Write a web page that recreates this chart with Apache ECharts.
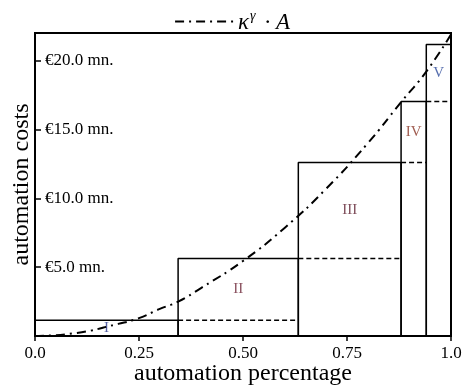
<!DOCTYPE html>
<html lang="en">
<head>
  <script src="https://cdn.jsdelivr.net/npm/echarts@6.0.0/dist/echarts.min.js"></script>
  <meta charset="UTF-8">
</head>
<body style="margin:0">
  <div id="costChart" style="width: 464px;height:389px;"></div>

  <script type="text/javascript">

    // step boundaries on the automation-percentage axis and step heights (mn. EUR)
    var stageEdges = [0, 0.344, 0.633, 0.880, 0.9406, 1.0];
    var stageHeights = [1.15, 5.63, 12.59, 17.03, 21.16];
    var stageNames = ['I', 'II', 'III', 'IV', 'V'];
    var stageColors = ['#2b3a8c', '#6b2436', '#5a1c2c', '#8a3426', '#2c4a9a'];

    // the κ^γ·A curve
    var curveX = [0, 0.1, 0.2, 0.25, 0.3, 0.344, 0.4, 0.5, 0.6, 0.7, 0.8, 0.88, 0.9406, 1.0];
    var curveY = [0, 0.22, 0.88, 1.3, 1.97, 2.49, 3.5, 5.45, 7.85, 10.7, 14.0, 16.98, 19.2, 21.9];

    var xTicks = { 0: '0.0', 0.25: '0.25', 0.5: '0.50', 0.75: '0.75', 1: '1.0' };

    var serif = '"Liberation Serif", "DejaVu Serif", serif';

    function createCostChart() {
        const chart = echarts.init(document.getElementById('costChart'));

        let series = [];

        // rectangles
        for (let i = 0; i < stageHeights.length; i++) {
            let x0 = stageEdges[i], x1 = stageEdges[i + 1], h = stageHeights[i];
            series.push({
                type: 'line',
                silent: true,
                symbol: 'none',
                data: [[x0, 0], [x0, h], [x1, h], [x1, 0]],
                lineStyle: { color: '#000', width: 1.5 },
                z: 3
            });
            // dashed continuation over the next step
            if (i + 2 < stageEdges.length) {
                series.push({
                    type: 'line',
                    silent: true,
                    symbol: 'none',
                    data: [[x1, h], [stageEdges[i + 2], h]],
                    lineStyle: { color: '#000', width: 1.5, type: [5, 3] },
                    z: 3
                });
            }
        }

        // roman numeral labels
        series.push({
            type: 'scatter',
            silent: true,
            symbolSize: 0,
            data: stageNames.map((n, i) => ({
                value: [(stageEdges[i] + stageEdges[i + 1]) / 2,
                        ((i > 0 ? stageHeights[i - 1] : 0) + stageHeights[i]) / 2],
                label: { color: stageColors[i] },
                name: n
            })),
            label: {
                show: true,
                position: 'inside',
                formatter: p => p.name,
                fontFamily: serif,
                fontSize: 15
            },
            z: 4
        });

        series.push({
            name: 'curve',
            type: 'line',
            silent: true,
            symbol: 'none',
            smooth: true,
            data: curveX.map((x, i) => [x, curveY[i]]),
            itemStyle: { color: '#000' },
            lineStyle: { color: '#000', width: 2, type: [9, 5, 2, 5] },
            z: 5
        });

        let option = {
            animation: false,
            grid: {
                left: 35, right: 13, top: 33, bottom: 53,
                outerBoundsMode: 'none',
                containLabel: false,
                show: true, borderColor: '#000', borderWidth: 2
            },
            legend: {
                data: ['curve'],
                top: 4,
                left: 'center',
                itemWidth: 58,
                itemHeight: 14,
                itemStyle: { opacity: 0 },
                formatter: () => '{k|κ}{s|γ}{k| · A}',
                textStyle: {
                    rich: {
                        k: { fontFamily: serif, fontStyle: 'italic', fontSize: 23, color: '#000', verticalAlign: 'bottom' },
                        s: { fontFamily: serif, fontStyle: 'italic', fontSize: 14, color: '#000', verticalAlign: 'bottom', padding: [0, 3, 11, 1] }
                    }
                }
            },
            xAxis: {
                type: 'value',
                min: 0, max: 1, interval: 0.25,
                name: 'automation percentage',
                nameLocation: 'middle',
                nameGap: 26,
                nameMoveOverlap: false,
                nameTextStyle: { fontFamily: serif, fontSize: 24, color: '#000' },
                axisLine: { lineStyle: { color: '#000', width: 2 } },
                axisTick: { length: 5, lineStyle: { color: '#000', width: 1.5 } },
                axisLabel: {
                    formatter: v => xTicks[v] !== undefined ? xTicks[v] : '',
                    fontFamily: serif, fontSize: 17, color: '#000', margin: 9
                },
                splitLine: { show: false }
            },
            yAxis: {
                type: 'value',
                min: 0, max: 22, interval: 5,
                name: 'automation costs',
                nameLocation: 'middle',
                nameGap: 1,
                nameMoveOverlap: false,
                nameTextStyle: { fontFamily: serif, fontSize: 24, color: '#000' },
                axisLine: { lineStyle: { color: '#000', width: 2 } },
                axisTick: { inside: true, length: 6, lineStyle: { color: '#000', width: 1.5 } },
                axisLabel: {
                    inside: true,
                    margin: 10,
                    formatter: v => (v > 0 && v % 5 === 0) ? '€' + v.toFixed(1) + ' mn.' : '',
                    fontFamily: serif, fontSize: 17, color: '#000'
                },
                splitLine: { show: false }
            },
            series: series
        };

        chart.setOption(option);
    }
    createCostChart();
  </script>
</body>
</html>
